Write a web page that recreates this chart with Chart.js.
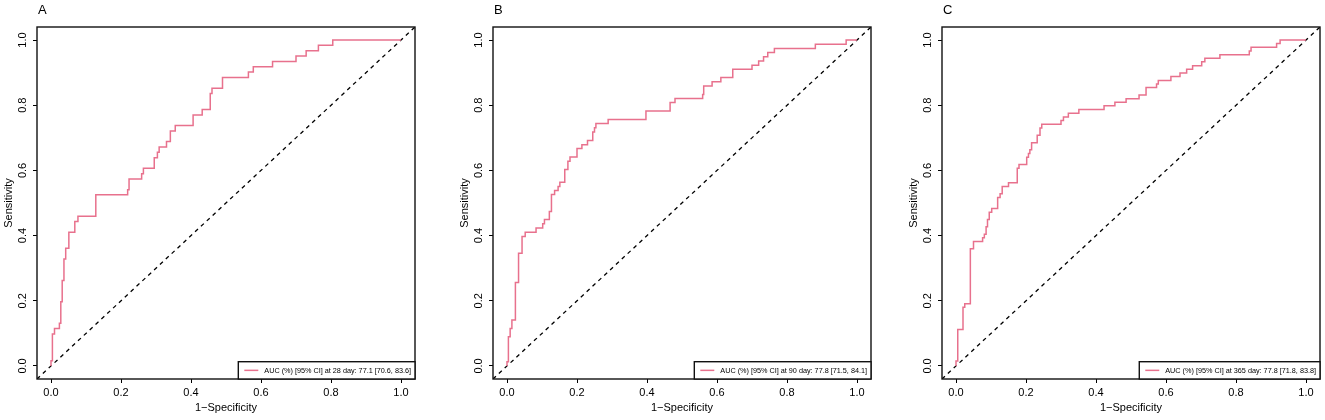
<!DOCTYPE html>
<html>
<head>
<meta charset="utf-8">
<script src="https://cdn.jsdelivr.net/npm/chart.js@4.4.1/dist/chart.umd.min.js"></script>
<style>
  body { margin: 0; background: #fff; width: 1325px; height: 420px; overflow: hidden; position: relative; }
  .panel { position: absolute; top: 0; width: 417px; height: 420px; }
</style>
</head>
<body>
<div class="panel" style="left:0px"><canvas id="chartA"></canvas></div>
<div class="panel" style="left:456px"><canvas id="chartB"></canvas></div>
<div class="panel" style="left:905px"><canvas id="chartC"></canvas></div>
<script>
// 1-specificity / sensitivity
const fprA = [0, 0, 0.004, 0.010, 0.024, 0.028, 0.032, 0.037, 0.042, 0.051, 0.068, 0.077, 0.128, 0.219, 0.223, 0.259, 0.264, 0.295, 0.304, 0.309, 0.330, 0.341, 0.355, 0.406, 0.432, 0.455, 0.460, 0.490, 0.564, 0.578, 0.633, 0.700, 0.729, 0.764, 0.805, 1.0];
const tprA = [0, 0.016, 0.098, 0.115, 0.131, 0.197, 0.262, 0.328, 0.361, 0.410, 0.443, 0.459, 0.525, 0.541, 0.574, 0.590, 0.607, 0.639, 0.656, 0.672, 0.689, 0.721, 0.738, 0.770, 0.787, 0.836, 0.852, 0.885, 0.902, 0.918, 0.934, 0.951, 0.967, 0.984, 1.0, 1.0];

const fprB = [0, 0, 0.004, 0.009, 0.014, 0.024, 0.033, 0.043, 0.052, 0.083, 0.102, 0.107, 0.121, 0.127, 0.136, 0.146, 0.151, 0.165, 0.174, 0.180, 0.200, 0.214, 0.230, 0.245, 0.250, 0.254, 0.289, 0.397, 0.466, 0.480, 0.559, 0.562, 0.586, 0.611, 0.645, 0.700, 0.719, 0.733, 0.745, 0.764, 0.881, 0.969, 1.0];
const tprB = [0, 0.013, 0.090, 0.115, 0.141, 0.256, 0.346, 0.397, 0.410, 0.423, 0.436, 0.449, 0.474, 0.526, 0.538, 0.551, 0.564, 0.603, 0.628, 0.641, 0.667, 0.679, 0.692, 0.718, 0.731, 0.744, 0.756, 0.782, 0.808, 0.821, 0.833, 0.859, 0.872, 0.885, 0.910, 0.923, 0.936, 0.949, 0.962, 0.974, 0.987, 1.0, 1.0];

const fprC = [0, 0, 0.005, 0.020, 0.025, 0.041, 0.050, 0.076, 0.081, 0.086, 0.090, 0.095, 0.102, 0.119, 0.126, 0.132, 0.150, 0.175, 0.180, 0.202, 0.207, 0.211, 0.216, 0.232, 0.240, 0.245, 0.300, 0.307, 0.321, 0.351, 0.423, 0.454, 0.486, 0.523, 0.543, 0.573, 0.578, 0.614, 0.640, 0.659, 0.676, 0.702, 0.711, 0.754, 0.838, 0.843, 0.916, 0.926, 1.0];
const tprC = [0, 0.015, 0.112, 0.180, 0.191, 0.360, 0.382, 0.393, 0.404, 0.427, 0.449, 0.472, 0.483, 0.517, 0.528, 0.551, 0.562, 0.607, 0.618, 0.640, 0.652, 0.663, 0.685, 0.708, 0.730, 0.742, 0.753, 0.764, 0.775, 0.787, 0.798, 0.809, 0.820, 0.831, 0.854, 0.865, 0.876, 0.888, 0.899, 0.910, 0.921, 0.933, 0.944, 0.955, 0.966, 0.978, 0.989, 1.0, 1.0];

const tickValues = [0, 0.2, 0.4, 0.6, 0.8, 1.0];
const refLine = [-0.04, 1.04];

const panelLetters = ["A", "B", "C"];
const legendLabels = [
  "AUC (%) [95% CI] at 28 day: 77.1 [70.6, 83.6]",
  "AUC (%) [95% CI] at 90 day: 77.8 [71.5, 84.1]",
  "AUC (%) [95% CI] at 365 day: 77.8 [71.8, 83.8]"
];

const FONT = "'Liberation Sans', Arial, Helvetica, sans-serif";
const PINK = "#e8718d";

const decor = {
  id: "decor",
  afterDraw(chart, args, opts) {
    const ctx = chart.ctx;
    const a = chart.chartArea;
    const yScale = chart.scales.y;
    ctx.save();

    // plot box
    ctx.strokeStyle = "#111";
    ctx.lineWidth = 1.4;
    ctx.strokeRect(a.left, a.top, a.right - a.left, a.bottom - a.top);

    // rotated y tick labels, R style
    ctx.fillStyle = "#000";
    ctx.font = "11px " + FONT;
    ctx.textAlign = "center";
    ctx.textBaseline = "middle";
    tickValues.forEach((v) => {
      ctx.save();
      ctx.translate(a.left - 14.5, yScale.getPixelForValue(v));
      ctx.rotate(-Math.PI / 2);
      ctx.fillText(v.toFixed(1), 0, 0);
      ctx.restore();
    });

    // panel letter
    ctx.textAlign = "left";
    ctx.textBaseline = "alphabetic";
    ctx.font = "13px " + FONT;
    ctx.fillText(opts.letter, a.left + 1, 14);

    // legend box
    ctx.font = "7.25px " + FONT;
    const tw = ctx.measureText(opts.label).width;
    const bw = 26 + tw + 4;
    const bh = 17.3;
    const bx = a.right - bw;
    const by = a.bottom - bh;
    ctx.fillStyle = "#fff";
    ctx.fillRect(bx, by, bw, bh);
    ctx.strokeStyle = "#111";
    ctx.lineWidth = 1.4;
    ctx.strokeRect(bx, by, bw, bh);
    ctx.strokeStyle = PINK;
    ctx.lineWidth = 1.5;
    ctx.beginPath();
    ctx.moveTo(bx + 6, by + bh / 2);
    ctx.lineTo(bx + 20, by + bh / 2);
    ctx.stroke();
    ctx.fillStyle = "#000";
    ctx.textBaseline = "middle";
    ctx.fillText(opts.label, bx + 26, by + bh / 2 + 0.5);

    ctx.restore();
  }
};

function axis(title, isX) {
  return {
    type: "linear",
    min: -0.04,
    max: 1.04,
    afterBuildTicks: (s) => { s.ticks = tickValues.map((v) => ({ value: v })); },
    afterFit: (s) => { if (isX) s.height = 41; else s.width = 37; },
    ticks: {
      display: isX,
      autoSkip: false,
      maxRotation: 0,
      padding: 3,
      color: "#000",
      font: { family: FONT, size: 11 },
      callback: (v) => Number(v).toFixed(1)
    },
    grid: { drawOnChartArea: false, drawTicks: true, tickLength: 4, color: "#000", lineWidth: 1 },
    border: { display: false },
    title: {
      display: true,
      text: title,
      color: "#000",
      font: { family: FONT, size: 11 },
      padding: isX ? { top: 0, bottom: 5 } : { top: 2.5, bottom: 0 }
    }
  };
}

function drawRoc(id, fpr, tpr, letter, label) {
  const pts = fpr.map((x, i) => ({ x: x, y: tpr[i] }));
  new Chart(document.getElementById(id), {
    type: "scatter",
    data: {
      datasets: [
        {
          data: pts,
          showLine: true,
          stepped: "before",
          borderColor: PINK,
          borderWidth: 1.5,
          pointRadius: 0,
          order: 1
        },
        {
          data: refLine.map((v) => ({ x: v, y: v })),
          showLine: true,
          borderColor: "#000",
          borderWidth: 1.3,
          borderDash: [4, 4],
          pointRadius: 0,
          order: 2
        }
      ]
    },
    options: {
      responsive: true,
      maintainAspectRatio: false,
      animation: false,
      layout: { padding: { left: 0, right: 2, top: 27, bottom: 0 } },
      plugins: {
        legend: { display: false },
        tooltip: { enabled: false },
        decor: { letter: letter, label: label }
      },
      scales: {
        x: axis("1\u2212Specificity", true),
        y: axis("Sensitivity", false)
      }
    },
    plugins: [decor]
  });
}

drawRoc("chartA", fprA, tprA, panelLetters[0], legendLabels[0]);
drawRoc("chartB", fprB, tprB, panelLetters[1], legendLabels[1]);
drawRoc("chartC", fprC, tprC, panelLetters[2], legendLabels[2]);
</script>
</body>
</html>
